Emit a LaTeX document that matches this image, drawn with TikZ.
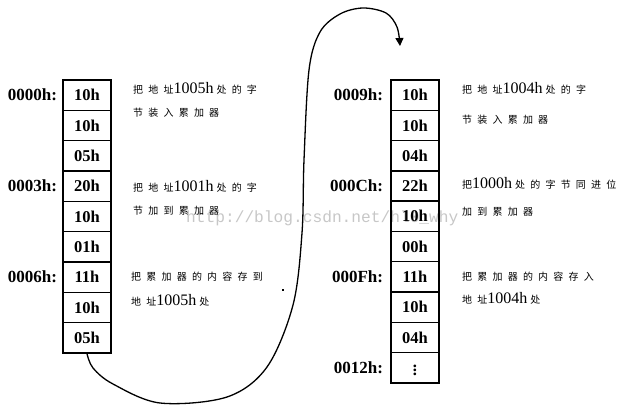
\documentclass[tikz,border=0pt]{standalone}
\usepackage{fontspec}
\setmainfont{Liberation Serif}
\newfontfamily\cjkfont[LetterSpace=52]{Noto Sans CJK SC}
\newfontfamily\wmfont{Liberation Mono}
\usetikzlibrary{arrows.meta}
\newcommand\zhtxt[1]{{\cjkfont\fontsize{10}{10}\selectfont #1}}
\newcommand\numtxt[1]{{\fontsize{16}{16}\selectfont #1}\hspace{3pt}}
\tikzset{
  cell/.style={draw, line width=1.4pt, minimum width=48pt, minimum height=30.3pt,
    inner sep=0pt, font=\bfseries\fontsize{16.5}{16.5}\selectfont},
  addr/.style={anchor=east, inner sep=0pt, xshift=-5pt, font=\bfseries\fontsize{17}{17}\selectfont},
  note/.style={anchor=west, inner sep=0pt},
  flow/.style={line width=1.3pt, -{Triangle[width=8pt,length=8pt]}}
}
\begin{document}
\begin{tikzpicture}[x=1pt,y=-1pt]
\useasboundingbox (0,0) rectangle (630,417);
% watermark
\node[anchor=west, inner sep=0pt, text=black!22, font=\wmfont\fontsize{16.2}{16.2}\selectfont] (wm) at (186,218) {http://blog.csdn.net/hl0\_why};
% left column
\foreach \v [count=\i] in {10h,10h,05h,20h,10h,01h,11h,10h,05h}
  \node[cell] (L\i) at (87,{80+30.33*(\i-0.5)}) {\v};
% right column
\foreach \v [count=\i] in {10h,10h,04h,22h,10h,00h,11h,10h,04h}
  \node[cell] (R\i) at (415,{80+30.3*(\i-0.5)}) {\v};
\node[cell] (R10) at (415,{80+30.3*9.5}) {$\vdots$};
% addresses
\node[addr] (aL1) at (L1.west) {0000h:};
\node[addr] (aL4) at (L4.west) {0003h:};
\node[addr] (aL7) at (L7.west) {0006h:};
\node[addr, xshift=-2pt] (aR1) at (R1.west) {0009h:};
\node[addr, xshift=-2pt] (aR4) at (R4.west) {000Ch:};
\node[addr, xshift=-2pt] (aR7) at (R7.west) {000Fh:};
\node[addr, xshift=-2pt] (aR10) at (R10.west) {0012h:};
% notes left
\node[note] (n1a) at (133,88) {\zhtxt{把地址}\numtxt{1005h}\zhtxt{处的字}};
\node[note] (n1b) at (133,113) {\zhtxt{节装入累加器}};
\node[note] (n2a) at (133,186) {\zhtxt{把地址}\numtxt{1001h}\zhtxt{处的字}};
\node[note] (n2b) at (133,211) {\zhtxt{节加到累加器}};
\node[note] (n3a) at (131,277) {\zhtxt{把累加器的内容存到}};
\node[note] (n3b) at (131,300) {\zhtxt{地址}\numtxt{1005h}\zhtxt{处}};
% notes right
\node[note] (m1a) at (462,88) {\zhtxt{把地址}\numtxt{1004h}\zhtxt{处的字}};
\node[note] (m1b) at (462,120) {\zhtxt{节装入累加器}};
\node[note] (m2a) at (462,183) {\zhtxt{把}\numtxt{1000h}\zhtxt{处的字节同进位}};
\node[note] (m2b) at (462,212) {\zhtxt{加到累加器}};
\node[note] (m3a) at (462,277) {\zhtxt{把累加器的内容存入}};
\node[note] (m3b) at (462,298) {\zhtxt{地址}\numtxt{1004h}\zhtxt{处}};
% flow curve
\coordinate (tgt) at (400,46);
\draw[flow] plot[smooth, tension=0.55] coordinates {(L9.south) (93,368) (113,384) (160,403) (227,397) (267,367) (293,305) (302,233) (304,160) (309,70) (320,32) (340,14) (363,8) (386,13) (397,27) (tgt)};
% stray dot
\fill (282,289) rectangle (284,291);
\end{tikzpicture}
\end{document}
